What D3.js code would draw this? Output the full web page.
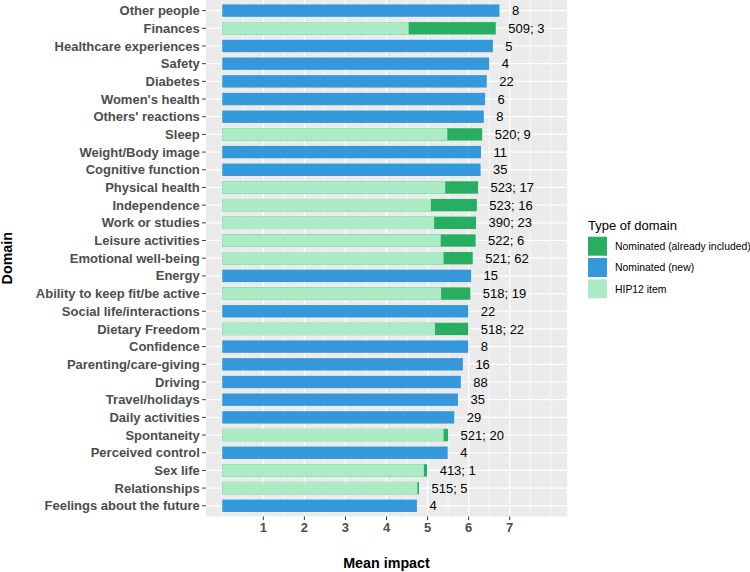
<!DOCTYPE html>
<html><head><meta charset="utf-8">
<script src="https://cdn.jsdelivr.net/npm/d3@7"></script>
<style>body{margin:0;background:#fff;} svg{display:block;font-family:"Liberation Sans",Arial,sans-serif;}</style>
</head><body>
<script>
const domains = ["Other people","Finances","Healthcare experiences","Safety","Diabetes","Women's health","Others' reactions","Sleep","Weight/Body image","Cognitive function","Physical health","Independence","Work or studies","Leisure activities","Emotional well-being","Energy","Ability to keep fit/be active","Social life/interactions","Dietary Freedom","Confidence","Parenting/care-giving","Driving","Travel/holidays","Daily activities","Spontaneity","Perceived control","Sex life","Relationships","Feelings about the future"];
// mean impact of nominated domains
const nominatedMean = [6.75,6.66,6.59,6.50,6.44,6.40,6.37,6.33,6.30,6.29,6.23,6.20,6.18,6.17,6.10,6.06,6.04,5.99,5.99,5.99,5.86,5.81,5.74,5.65,5.50,5.49,4.99,4.79,4.74];
// mean impact of HIP12 items (null = new domain)
const hipMean = [null,4.54,null,null,null,null,null,5.48,null,null,5.43,5.08,5.16,5.32,5.39,null,5.33,null,5.18,null,null,null,null,null,5.39,null,4.91,4.75,null];
const hipN = [null,509,null,null,null,null,null,520,null,null,523,523,390,522,521,null,518,null,518,null,null,null,null,null,521,null,413,515,null];
const nominatedN = [8,3,5,4,22,6,8,9,11,35,17,16,23,6,62,15,19,22,22,8,16,88,35,29,20,4,1,5,4];
const xTicks = [1,2,3,4,5,6,7];
const legendLabels = ["Nominated (already included)","Nominated (new)","HIP12 item"];
const legendColors = ["#27AE60","#3498DB","#ABEBC6"];

const W = 750, H = 572;
const svg = d3.select("body").append("svg").attr("width",W).attr("height",H);
svg.append("rect").attr("width",W).attr("height",H).attr("fill","#fff");

const pL = 205.8, pR = 567.2, pT = 0, pB = 516.4;
const x = d3.scaleLinear().domain([-0.4,8.4]).range([pL,pR]);
// ggplot discrete expansion 0.6 units each side
const yb = d3.scalePoint().domain(domains).range([pT,pB]).padding(0.6);
const bw = yb.step()*0.7;

const g = svg.append("g");
g.append("rect").attr("x",pL).attr("y",pT).attr("width",pR-pL).attr("height",pB-pT).attr("fill","#EBEBEB");
// minor grid
d3.range(0,8.01,0.5).filter(v=>!xTicks.includes(v)).forEach(v=>{
  g.append("line").attr("x1",x(v)).attr("x2",x(v)).attr("y1",pT).attr("y2",pB).attr("stroke","#fff").attr("stroke-width",0.6);
});
xTicks.forEach(v=>{
  g.append("line").attr("x1",x(v)).attr("x2",x(v)).attr("y1",pT).attr("y2",pB).attr("stroke","#fff").attr("stroke-width",1.2);
});
domains.forEach(d=>{
  g.append("line").attr("x1",pL).attr("x2",pR).attr("y1",yb(d)).attr("y2",yb(d)).attr("stroke","#fff").attr("stroke-width",1.2);
});

const rows = domains.map((d,i)=>({d, nom:nominatedMean[i], hip:hipMean[i], hn:hipN[i], nn:nominatedN[i]}));
// nominated bars
g.selectAll("rect.nom").data(rows).enter().append("rect")
  .attr("x",x(0)).attr("y",r=>yb(r.d)-bw/2).attr("height",bw)
  .attr("width",r=>x(r.nom)-x(0))
  .attr("fill",r=>r.hip==null?legendColors[1]:legendColors[0]);
// HIP12 bars
g.selectAll("rect.hip").data(rows.filter(r=>r.hip!=null)).enter().append("rect")
  .attr("x",x(0)).attr("y",r=>yb(r.d)-bw/2).attr("height",bw)
  .attr("width",r=>x(r.hip)-x(0)).attr("fill",legendColors[2]);
// labels
g.selectAll("text.lab").data(rows).enter().append("text")
  .attr("x",r=>x(r.nom)+12.5).attr("y",r=>yb(r.d)+4.6)
  .attr("font-size",13).attr("fill","#000")
  .text(r=>r.hn==null?String(r.nn):`${r.hn}; ${r.nn}`);

// y axis
domains.forEach(d=>{
  svg.append("line").attr("x1",pL-3.7).attr("x2",pL).attr("y1",yb(d)).attr("y2",yb(d)).attr("stroke","#333").attr("stroke-width",1);
  svg.append("text").attr("x",pL-6).attr("y",yb(d)+4.6).attr("text-anchor","end")
    .attr("font-size",13).attr("font-weight","bold").attr("fill","#4D4D4D").text(d);
});
// x axis
xTicks.forEach(v=>{
  svg.append("line").attr("x1",x(v)).attr("x2",x(v)).attr("y1",pB).attr("y2",pB+3.7).attr("stroke","#333").attr("stroke-width",1);
  svg.append("text").attr("x",x(v)).attr("y",pB+16).attr("text-anchor","middle")
    .attr("font-size",13).attr("font-weight","bold").attr("fill","#4D4D4D").text(v);
});
svg.append("text").attr("x",(pL+pR)/2).attr("y",567.7).attr("text-anchor","middle")
  .attr("font-size",14.3).attr("font-weight","bold").attr("fill","#000").text("Mean impact");
svg.append("text").attr("transform",`translate(12,${(pT+pB)/2}) rotate(-90)`).attr("text-anchor","middle")
  .attr("font-size",14.3).attr("font-weight","bold").attr("fill","#000").text("Domain");

// legend
const lg = svg.append("g");
lg.append("text").attr("x",588).attr("y",230).attr("font-size",13).attr("fill","#000").text("Type of domain");
legendLabels.forEach((l,i)=>{
  const ky = 236.7 + i*21.3;
  lg.append("rect").attr("x",588).attr("y",ky).attr("width",19).attr("height",19).attr("fill",legendColors[i]);
  lg.append("text").attr("x",615).attr("y",ky+9.5+3.7).attr("font-size",10.4).attr("fill","#000").text(l);
});
</script>
</body></html>
